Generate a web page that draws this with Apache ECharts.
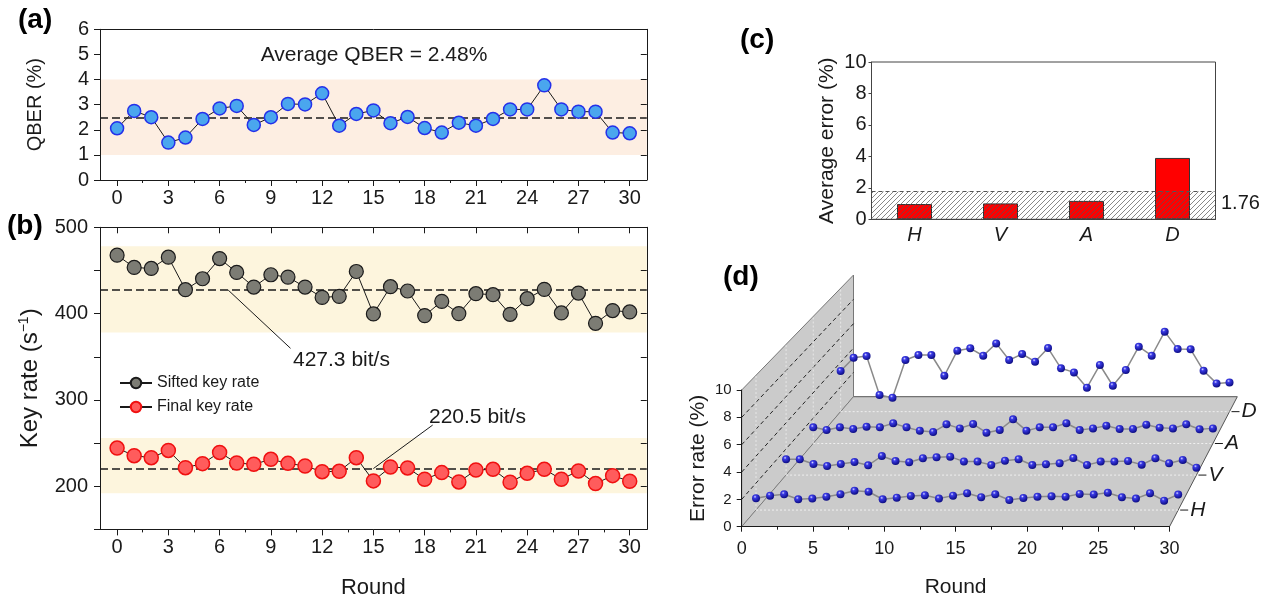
<!DOCTYPE html>
<html>
<head>
<meta charset="utf-8">
<title>QBER, key rate and error rate</title>
<script src="https://cdn.jsdelivr.net/npm/echarts@6.0.0/dist/echarts.min.js"></script>
<style>
  html, body { margin: 0; padding: 0; background: #fff; }
  #chart { width: 1273px; height: 601px; }
</style>
</head>
<body>
<div id="chart"></div>
<script>
// ---- data ----
const rounds = [0,1,2,3,4,5,6,7,8,9,10,11,12,13,14,15,16,17,18,19,20,21,22,23,24,25,26,27,28,29,30];
const roundTicks = [0,3,6,9,12,15,18,21,24,27,30];
const roundMinorTicks = [1.5,4.5,7.5,10.5,13.5,16.5,19.5,22.5,25.5,28.5];

// (a) QBER per round (%)
const qber = [2.06,2.75,2.50,1.49,1.69,2.43,2.85,2.95,2.19,2.50,3.03,3.01,3.45,2.16,2.63,2.77,
  2.26,2.51,2.07,1.89,2.28,2.16,2.43,2.81,2.81,3.77,2.81,2.72,2.72,1.89,1.86];
const qberAvg = 2.48;
const qberBand = [1, 4];

// (b) key rates (bit/s)
const siftedRate = [467.7,453.5,452.3,465.4,427.7,440.4,463.8,447.7,430.8,445.0,442.3,430.8,418.8,420.0,448.8,399.6,
  431.2,426.2,397.7,414.2,400.0,423.1,421.9,399.2,417.3,428.1,400.8,423.8,388.8,403.5,401.9];
const finalRate = [244.2,235.4,233.1,241.5,221.5,226.2,239.2,226.9,225.4,231.2,226.5,223.5,216.9,217.3,233.1,206.2,
  222.3,221.2,208.1,215.8,205.0,218.8,219.6,204.6,215.0,219.6,208.1,217.7,203.1,212.3,205.8];
const siftedAvg = 427.3;
const finalAvg = 220.5;
const siftedBand = [378, 478];
const finalBand = [192, 256];

// (c) average error per basis (%)
const bases = ['H', 'V', 'A', 'D'];
const avgError = [0.97, 1.01, 1.17, 3.90];
const errorLimit = 1.76;

// (d) error rate per round and basis (%)
const errH = [0.88,1.07,1.17,0.80,0.85,0.99,1.17,1.44,1.36,0.80,0.92,1.05,1.10,0.85,1.07,1.25,
  0.95,1.17,0.75,0.90,0.99,1.02,0.99,1.20,1.15,1.29,0.95,0.85,1.25,0.70,1.15];
const errV = [1.21,1.21,0.85,0.70,0.85,1.00,0.75,1.46,1.08,0.98,1.29,1.36,1.41,1.03,1.03,0.77,
  1.10,1.21,0.77,0.83,0.90,1.31,0.77,1.03,1.03,1.08,0.80,1.29,0.90,1.16,0.57];
const errA = [1.27,1.06,1.27,1.14,1.32,1.27,1.59,1.27,1.01,0.90,1.51,1.19,1.53,0.85,1.06,1.90,
  1.01,1.27,1.27,1.59,1.06,1.19,1.40,1.14,1.14,1.48,1.24,1.19,1.51,1.12,1.19];
const errD = [3.29,4.37,4.50,1.35,1.13,4.18,4.59,4.59,2.91,4.94,5.13,4.53,5.53,4.18,4.67,4.05,
  5.15,3.51,3.18,1.94,3.78,2.10,3.37,5.26,4.53,6.48,5.07,5.05,3.31,2.29,2.37];

// ---- helpers ----
const FR = "'Liberation Sans', Arial, sans-serif";
const INK = '#1a1a1a';
const pairs = (ys) => rounds.map((r, i) => [r, ys[i]]);

function hatchPattern() {
  const c = document.createElement('canvas');
  c.width = 5; c.height = 5;
  const g = c.getContext('2d');
  g.strokeStyle = '#555'; g.lineWidth = 0.7;
  g.beginPath();
  g.moveTo(0, 5); g.lineTo(5, 0);
  g.moveTo(-1, 1); g.lineTo(1, -1);
  g.moveTo(4, 6); g.lineTo(6, 4);
  g.stroke();
  return c;
}

// pseudo-3d box of panel (d): front plane and back plane
const F = { x: 741.7, y: 526.7, w: 427.8, h: 136.7 };
const B = { x: 853.5, y: 396.7, w: 383.8, h: 121.7 };
const depths = [0.128, 0.397, 0.64, 0.885];
function plane(d) {
  return {
    x: F.x + (B.x - F.x) * d, y: F.y + (B.y - F.y) * d,
    w: F.w + (B.w - F.w) * d, h: F.h + (B.h - F.h) * d
  };
}

// ---- grids ----
const grids = [
  { left: 100, top: 29.3, width: 546.8, height: 150.7 },
  { left: 100, top: 227.3, width: 546.8, height: 302.1 },
  { left: 871.5, top: 62, width: 344, height: 157.3, show: true, borderColor: '#444', borderWidth: 1 },
  { left: F.x, top: F.y - F.h, width: F.w, height: F.h }
];
depths.forEach(d => {
  const p = plane(d);
  grids.push({ left: p.x, top: p.y - p.h, width: p.w, height: p.h });
});
grids.forEach(g => { g.outerBoundsMode = 'none'; });

// ---- axes ----
const line = (c) => ({ show: true, onZero: false, lineStyle: { color: c || INK, width: 1 } });

function roundAxes(gi, withName, topTicks) {
  const base = { gridIndex: gi, type: 'value', min: -1, max: 31, z: 5, splitLine: { show: false } };
  return [
    Object.assign({}, base, {
      position: 'bottom',
      axisLine: line(),
      axisTick: { customValues: roundTicks, length: 6, lineStyle: { color: INK } },
      axisLabel: { customValues: roundTicks, fontSize: 20, fontFamily: FR, color: INK, margin: 8 },
      name: withName ? 'Round' : '', nameLocation: 'middle', nameGap: 48,
      nameTextStyle: { fontSize: 22, fontFamily: FR, color: INK }
    }),
    Object.assign({}, base, {
      position: 'bottom', axisLine: { show: false, onZero: false },
      axisTick: { customValues: roundMinorTicks, length: 3, lineStyle: { color: INK } },
      axisLabel: { show: false }
    }),
    Object.assign({}, base, {
      position: 'top',
      axisLine: line(),
      axisTick: { show: topTicks, customValues: roundTicks, inside: true, length: 6, lineStyle: { color: INK } },
      axisLabel: { show: false }
    })
  ];
}

const xAxes = [].concat(
  roundAxes(0, false, false),     // 0-2
  roundAxes(1, true, true),       // 3-5
  [{
    gridIndex: 2, type: 'category', data: bases,   // 6
    axisLine: line('#444'),
    axisTick: { show: false },
    axisLabel: { fontSize: 20, fontStyle: 'italic', fontFamily: FR, color: INK, margin: 6 }
  }, {
    gridIndex: 3, type: 'value', min: 0, max: 30, interval: 5,   // 7
    axisLine: line(),
    axisTick: { length: 5, lineStyle: { color: INK } },
    minorTick: { show: true, splitNumber: 2, length: 3, lineStyle: { color: INK } },
    axisLabel: { fontSize: 18, fontFamily: FR, color: INK, margin: 13 },
    splitLine: { show: false },
    name: 'Round', nameLocation: 'middle', nameGap: 50,
    nameTextStyle: { fontSize: 21, fontFamily: FR, color: INK }
  }]
);
depths.forEach((d, i) => {
  xAxes.push({ gridIndex: 4 + i, type: 'value', min: 0, max: 30, show: false });   // 8-11
});

const yAxes = [
  {
    gridIndex: 0, type: 'value', min: 0, max: 6, interval: 1, z: 5,
    axisLine: line(),
    axisTick: { show: true, length: 6, lineStyle: { color: INK } },
    axisLabel: { fontSize: 20, fontFamily: FR, color: INK, margin: 11 },
    splitLine: { show: false },
    name: 'QBER (%)', nameLocation: 'middle', nameGap: 55,
    nameTextStyle: { fontSize: 20, fontFamily: FR, color: INK }
  }, {
    gridIndex: 0, type: 'value', min: 0, max: 6, interval: 1, position: 'right', z: 5,
    axisLine: line(),
    axisTick: { show: true, inside: true, length: 6, lineStyle: { color: INK } },
    axisLabel: { show: false }, splitLine: { show: false }
  }, {
    gridIndex: 1, type: 'value', min: 150, max: 500, interval: 50, z: 5,
    axisLine: line(),
    axisTick: { show: true, length: 6, lineStyle: { color: INK } },
    axisLabel: {
      fontSize: 20, fontFamily: FR, color: INK, margin: 12,
      formatter: v => (v % 100 === 0 ? String(v) : '')
    },
    splitLine: { show: false },
    name: '{n|Key rate (s}{s|−1}{n|)}', nameLocation: 'middle', nameGap: 56,
    nameTextStyle: {
      color: INK,
      rich: {
        n: { fontSize: 24, fontFamily: FR, color: INK, lineHeight: 28 },
        s: { fontSize: 14, fontFamily: FR, color: INK, lineHeight: 28, padding: [0, 0, 12, 0] }
      }
    }
  }, {
    gridIndex: 1, type: 'value', min: 150, max: 500, interval: 50, position: 'right', z: 5,
    axisLine: line(),
    axisTick: { show: true, inside: true, length: 6, lineStyle: { color: INK } },
    axisLabel: { show: false }, splitLine: { show: false }
  }, {
    gridIndex: 2, type: 'value', min: 0, max: 10, interval: 2,
    axisLine: line('#444'),
    axisTick: { show: true, length: 3, lineStyle: { color: '#444' } },
    axisLabel: { fontSize: 20, fontFamily: FR, color: INK, margin: 5 },
    splitLine: { show: false },
    name: 'Average error (%)', nameLocation: 'middle', nameGap: 34,
    nameTextStyle: { fontSize: 21, fontFamily: FR, color: INK }
  }, {
    gridIndex: 3, type: 'value', min: 0, max: 10, interval: 2,
    axisLine: line(),
    axisTick: { show: true, length: 5, lineStyle: { color: INK } },
    axisLabel: { fontSize: 15, fontFamily: FR, color: INK, margin: 10 },
    splitLine: { show: false },
    name: 'Error rate (%)', nameLocation: 'middle', nameGap: 33,
    nameTextStyle: { fontSize: 21, fontFamily: FR, color: INK }
  }
];
depths.forEach((d, i) => {
  yAxes.push({ gridIndex: 4 + i, type: 'value', min: 0, max: 10, show: false });   // 6-9
});

// ---- series ----
const dash = { color: INK, type: [8, 4], width: 1.5 };
const ball = {
  type: 'radial', x: 0.38, y: 0.32, r: 0.75,
  colorStops: [
    { offset: 0, color: '#d8d8ff' },
    { offset: 0.25, color: '#3a3ae6' },
    { offset: 1, color: '#060675' }
  ]
};

const series = [
  // (a)
  {
    type: 'line', xAxisIndex: 0, yAxisIndex: 0, data: [], z: 1, silent: true,
    markArea: { z: 1, silent: true, itemStyle: { color: '#fdeee2' }, data: [[{ yAxis: qberBand[0] }, { yAxis: qberBand[1] }]] },
    markLine: { z: 2, silent: true, symbol: 'none', label: { show: false }, lineStyle: dash, data: [{ yAxis: qberAvg }] }
  },
  {
    name: 'QBER', type: 'line', xAxisIndex: 0, yAxisIndex: 0, data: pairs(qber), z: 3,
    symbol: 'circle', symbolSize: 13,
    lineStyle: { color: INK, width: 1 },
    itemStyle: { color: '#4aa6ee', borderColor: '#2430ea', borderWidth: 1.5 }
  },
  // (b)
  {
    type: 'line', xAxisIndex: 3, yAxisIndex: 2, data: [], z: 1, silent: true,
    markArea: {
      z: 1, silent: true, itemStyle: { color: '#fdf5dd' },
      data: [[{ yAxis: siftedBand[0] }, { yAxis: siftedBand[1] }], [{ yAxis: finalBand[0] }, { yAxis: finalBand[1] }]]
    },
    markLine: {
      z: 2, silent: true, symbol: 'none', label: { show: false },
      data: [
        { yAxis: siftedAvg, lineStyle: dash },
        { yAxis: finalAvg, lineStyle: dash },
        [{ coord: [6.5, siftedAvg], lineStyle: { color: INK, width: 1, type: 'solid' } }, { coord: [10.15, 359.8] }],
        [{ coord: [15.0, finalAvg], lineStyle: { color: INK, width: 1, type: 'solid' } }, { coord: [18.47, 270.9] }]
      ]
    }
  },
  {
    name: 'Sifted key rate', type: 'line', xAxisIndex: 3, yAxisIndex: 2, data: pairs(siftedRate), z: 3,
    symbol: 'circle', symbolSize: 14,
    lineStyle: { color: INK, width: 1 },
    itemStyle: { color: '#7c7c74', borderColor: '#1a1a1a', borderWidth: 1.2 }
  },
  {
    name: 'Final key rate', type: 'line', xAxisIndex: 3, yAxisIndex: 2, data: pairs(finalRate), z: 3,
    symbol: 'circle', symbolSize: 14,
    lineStyle: { color: INK, width: 1 },
    itemStyle: { color: '#ff5c5c', borderColor: '#f01010', borderWidth: 1.5 }
  },
  // (c)
  {
    name: 'Average error', type: 'bar', xAxisIndex: 6, yAxisIndex: 4, data: avgError, barWidth: 35, z: 2,
    itemStyle: { color: '#ff0000', borderColor: '#333', borderWidth: 1 }
  },
  {
    type: 'line', xAxisIndex: 6, yAxisIndex: 4, data: [], z: 6, silent: true,
    markArea: { z: 10, silent: true, itemStyle: { color: { image: hatchPattern(), repeat: 'repeat' } }, data: [[{ yAxis: 0 }, { yAxis: errorLimit }]] },
    markLine: { z: 11, silent: true, symbol: 'none', label: { show: false }, lineStyle: { color: '#555', type: [4, 3], width: 1 }, data: [{ yAxis: errorLimit }] }
  }
];
// (d) back row first so the front rows sit on top
[errD, errA, errV, errH].forEach((ys, k) => {
  const i = 3 - k;
  series.push({
    name: 'Error ' + bases[i], type: 'line', xAxisIndex: 8 + i, yAxisIndex: 6 + i, data: pairs(ys), z: 3 + (3 - i) * 0.1,
    symbol: 'circle', symbolSize: 8,
    lineStyle: { color: '#8a8a8a', width: 1.5 },
    itemStyle: { color: ball }
  });
});

// ---- decorations of the pseudo-3d box (d) ----
const gfx = [];
const wall = [[F.x, F.y], [F.x, F.y - F.h], [B.x, B.y - B.h], [B.x, B.y]];
const floor = [[F.x, F.y], [F.x + F.w, F.y], [B.x + B.w, B.y], [B.x, B.y]];
gfx.push({ type: 'polygon', shape: { points: wall }, style: { fill: '#cbcbcb', stroke: '#777', lineWidth: 1 }, z: -10 });
gfx.push({ type: 'polygon', shape: { points: floor }, style: { fill: '#cbcbcb', stroke: 'none' }, z: -9 });
gfx.push({ type: 'polyline', shape: { points: [[B.x, B.y], [B.x + B.w, B.y], [F.x + F.w, F.y]] }, style: { stroke: '#555', lineWidth: 1, fill: 'none' }, z: -8 });
gfx.push({ type: 'line', shape: { x1: F.x, y1: F.y, x2: B.x, y2: B.y }, style: { stroke: '#666', lineWidth: 0.6 }, z: -8 });
[2, 4, 6, 8].forEach(v => {
  gfx.push({
    type: 'line', z: -8,
    shape: { x1: F.x, y1: F.y - F.h * v / 10, x2: B.x, y2: B.y - B.h * v / 10 },
    style: { stroke: '#222', lineWidth: 1, lineDash: [4, 3] }
  });
});
depths.forEach((d, i) => {
  const p = plane(d);
  gfx.push({ type: 'line', z: -8, shape: { x1: p.x, y1: p.y, x2: p.x + p.w, y2: p.y }, style: { stroke: 'rgba(255,255,255,0.7)', lineWidth: 1, lineDash: [2, 2] } });
  gfx.push({ type: 'line', z: -8, shape: { x1: p.x, y1: p.y, x2: p.x, y2: p.y - p.h }, style: { stroke: 'rgba(255,255,255,0.55)', lineWidth: 1, lineDash: [2, 2] } });
  const xr = p.x + p.w;
  gfx.push({ type: 'line', z: -8, shape: { x1: xr + 2, y1: p.y, x2: xr + 10, y2: p.y }, style: { stroke: INK, lineWidth: 1 } });
  gfx.push({ type: 'text', x: xr + 12, y: p.y, style: { text: bases[i], fill: INK, font: 'italic 21px ' + FR, align: 'left', verticalAlign: 'middle' } });
});

// panel letters and annotations
const letters = [['(a)', 18, 6, 4], ['(b)', 7, 212], ['(c)', 740, 26], ['(d)', 723, 263]];
letters.forEach(([t, x, y]) => {
  gfx.push({ type: 'text', x, y, style: { text: t, fill: '#000', font: 'bold 28px ' + FR, align: 'left', verticalAlign: 'top' } });
});
gfx.push({ type: 'text', x: 374, y: 55, style: { text: 'Average QBER = ' + qberAvg.toFixed(2) + '%', fill: INK, font: '21px ' + FR, align: 'center', verticalAlign: 'middle' } });
gfx.push({ type: 'text', x: 293, y: 360, style: { text: siftedAvg.toFixed(1) + ' bit/s', fill: INK, font: '21px ' + FR, align: 'left', verticalAlign: 'middle' } });
gfx.push({ type: 'text', x: 429, y: 417, style: { text: finalAvg.toFixed(1) + ' bit/s', fill: INK, font: '21px ' + FR, align: 'left', verticalAlign: 'middle' } });
gfx.push({ type: 'text', x: 1221, y: 203, style: { text: errorLimit.toFixed(2), fill: INK, font: '20px ' + FR, align: 'left', verticalAlign: 'middle' } });

const chart = echarts.init(document.getElementById('chart'), null, { renderer: 'canvas' });
chart.setOption({
  animation: false,
  backgroundColor: '#fff',
  textStyle: { fontFamily: FR },
  legend: {
    data: ['Sifted key rate', 'Final key rate'],
    orient: 'vertical', left: 114, top: 370,
    itemWidth: 32, itemHeight: 13, itemGap: 8,
    textStyle: { fontSize: 16, fontFamily: FR, color: INK }
  },
  grid: grids,
  xAxis: xAxes,
  yAxis: yAxes,
  series: series,
  graphic: { elements: gfx }
});
</script>
</body>
</html>
